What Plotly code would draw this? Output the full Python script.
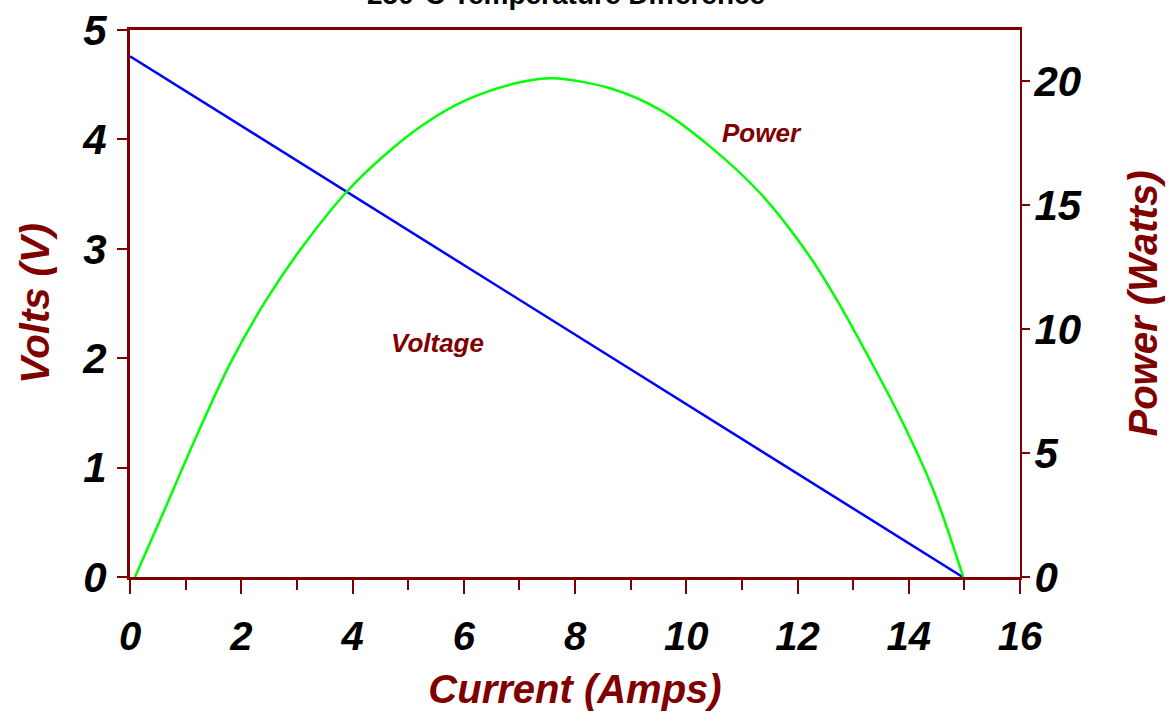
import plotly.graph_objects as go

# ---- data ----
current_v = [0.0, 3.87, 7.5, 14.97]
voltage = [4.76, 3.53, 2.38, 0.0]

current_p = [0.09, 0.60, 1.20, 1.80, 2.43, 3.06, 3.90, 4.55, 5.27, 6.05, 6.95, 7.60,
             8.63, 9.53, 10.43, 11.33, 12.22, 12.70, 13.24, 13.84, 14.44, 14.98]
power = [0.0, 2.6, 5.7, 8.6, 11.1, 13.19, 15.54, 16.95, 18.23, 19.23, 19.91, 20.1,
         19.7, 18.83, 17.35, 15.47, 12.92, 11.2, 9.02, 6.46, 3.51, 0.0]

x_ticks = [0, 2, 4, 6, 8, 10, 12, 14, 16]
y_ticks = [0, 1, 2, 3, 4, 5]
y2_ticks = [0, 5, 10, 15, 20]

title_text = "250°C Temperature Difference"
x_title = "Current (Amps)"
y_title = "Volts (V)"
y2_title = "Power (Watts)"

MAROON = "#800000"
BASE = "Liberation Sans, Arial"


def tickfont(size):
    return dict(family=BASE, size=size, color="black", weight="bold", style="italic")


TITLEFONT = dict(family=BASE, size=40, color=MAROON, weight="bold", style="italic")
LABELFONT = dict(family=BASE, size=26, color=MAROON, weight="bold", style="italic")

fig = go.Figure()
fig.add_trace(go.Scatter(x=current_v, y=voltage, mode="lines", name="Voltage",
                         line=dict(color="#0000FF", width=2.5), yaxis="y"))
fig.add_trace(go.Scatter(x=current_p, y=power, mode="lines", name="Power",
                         line=dict(color="#00FF00", width=2.5, shape="spline", smoothing=0.9),
                         yaxis="y2"))

fig.update_layout(
    width=1175, height=723,
    margin=dict(l=130, r=155, t=30, b=146, autoexpand=False),
    paper_bgcolor="white", plot_bgcolor="white",
    showlegend=False,
    xaxis=dict(range=[0, 16], tickvals=x_ticks, ticks="outside", ticklen=14,
               tickwidth=2, tickcolor=MAROON, showline=True, linecolor=MAROON,
               linewidth=3, mirror=True, showgrid=False, zeroline=False,
               automargin=False, tickfont=tickfont(40), ticklabelstandoff=8,
               minor=dict(dtick=1, ticks="outside", ticklen=10, tickwidth=2,
                          tickcolor=MAROON, showgrid=False),
               title=dict(text=x_title, font=TITLEFONT, standoff=18)),
    yaxis=dict(range=[0, 5], tickvals=y_ticks, ticks="outside", ticklen=10,
               tickwidth=2, tickcolor=MAROON, showline=True, linecolor=MAROON,
               linewidth=3, showgrid=False, zeroline=False, automargin=False,
               tickfont=tickfont(42), ticklabelstandoff=2,
               title=dict(text=y_title, font=TITLEFONT, standoff=21)),
    yaxis2=dict(range=[0, 22.05], tickvals=y2_ticks, overlaying="y", side="right",
                ticks="outside", ticklen=8, tickwidth=2, tickcolor=MAROON,
                showline=True, linecolor=MAROON, linewidth=2, showgrid=False,
                zeroline=False, automargin=False, tickfont=tickfont(42),
                ticklabelstandoff=-4,
                title=dict(text=y2_title, font=TITLEFONT, standoff=48)),
    annotations=[
        dict(text="Voltage", x=5.52, y=2.14, xref="x", yref="y", showarrow=False,
             font=LABELFONT),
        dict(text="Power", x=11.36, y=17.9, xref="x", yref="y2", showarrow=False,
             font=LABELFONT),
        dict(text=title_text, x=0.49, y=1.0325, xref="paper", yref="paper",
             xanchor="center", yanchor="bottom", showarrow=False,
             font=dict(family=BASE, size=28, color="black", weight="bold")),
    ],
)

fig.write_html("out.html", config={"displayModeBar": False},
               post_script="document.body.style.margin='0';")
